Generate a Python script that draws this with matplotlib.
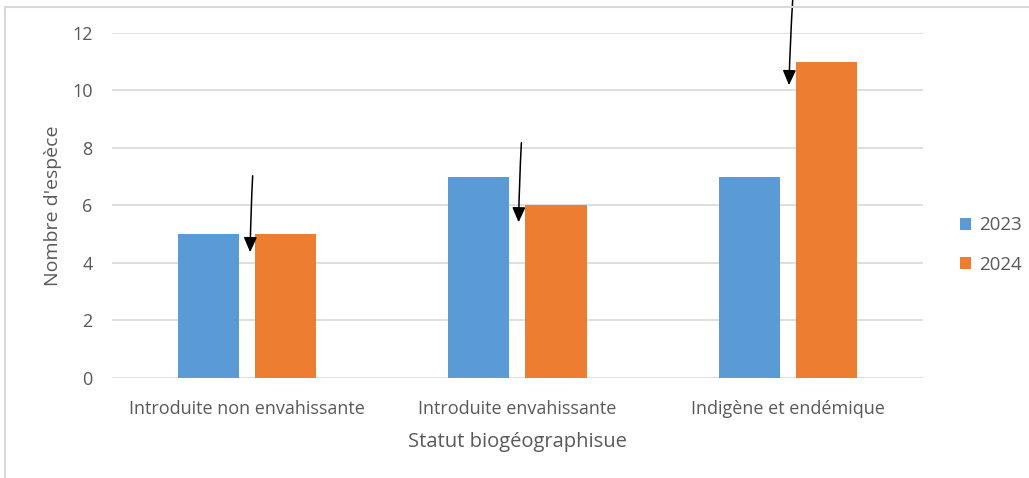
import numpy as np
import matplotlib.pyplot as plt
from matplotlib.patches import Rectangle

# Nombre d'espèces par statut biogéographique
categories = ["Introduite non envahissante", "Introduite envahissante", "Indigène et endémique"]
years = ["2023", "2024"]
values_2023 = [5, 7, 7]
values_2024 = [5, 6, 11]
colors = ["#5B9BD5", "#ED7D31"]

# flèches d'annotation : (x départ, y départ, x pointe, y pointe)
arrows = [
    (0.021, 7.13, 0.011, 4.28),
    (1.015, 8.28, 1.004, 5.32),
    (2.019, 13.3, 2.004, 10.09),
]

plt.rcParams['font.family'] = ['Open Sans', 'DejaVu Sans']
grey = "#595959"

fig = plt.figure(figsize=(10.29, 4.78), dpi=100)
ax = fig.add_axes([0.1088, 0.2092, 0.7882, 0.7218])

# cadre du graphique
fig.patches.append(Rectangle((5 / 1029, -0.2), 1.2, 1.2 - 7 / 478,
                             transform=fig.transFigure, fill=False,
                             edgecolor="#d9d9d9", lw=1.5))

x = np.arange(len(categories))
w = 0.226
off = 0.1426
ax.bar(x - off, values_2023, w, color=colors[0], label=years[0], zorder=3)
ax.bar(x + off, values_2024, w, color=colors[1], label=years[1], zorder=3)

for x0, y0, x1, y1 in arrows:
    ax.annotate("", xy=(x1, y1), xytext=(x0, y0), annotation_clip=False,
                arrowprops=dict(arrowstyle="-|>,head_length=0.9,head_width=0.4",
                                color="black", lw=1.1,
                                connectionstyle="arc3,rad=0.01"),
                zorder=5)

ax.set_xlim(-0.5, 2.5)
ax.set_ylim(0, 12)
ax.set_yticks(range(0, 13, 2))
ax.set_xticks(x)
ax.set_xticklabels(categories)
ax.grid(axis="y", color="#d9d9d9", lw=1.2, zorder=0)
ax.set_axisbelow(True)
for s in ax.spines.values():
    s.set_visible(False)
ax.tick_params(length=0, colors=grey, labelsize=13)
ax.tick_params(axis="y", pad=14)
ax.tick_params(axis="x", pad=16)

ax.set_ylabel("Nombre d'espèce", color=grey, fontsize=14, labelpad=7)
ax.set_xlabel("Statut biogéographisue", color=grey, fontsize=14.5, labelpad=10)

leg = ax.legend(loc="center left", bbox_to_anchor=(1.025, 0.385), frameon=False,
                fontsize=13.5, handlelength=0.6, handleheight=0.6,
                labelspacing=1.15, handletextpad=0.4, labelcolor=grey)

fig.savefig("out.png", dpi=100)
